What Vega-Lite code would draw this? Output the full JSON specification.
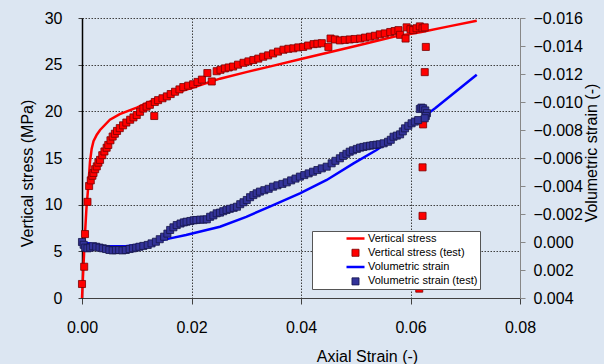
{
  "$schema": "https://vega.github.io/schema/vega-lite/v6.json",
  "width": 438,
  "height": 280,
  "autosize": {"type": "none"},
  "padding": {"left": 82, "top": 18, "right": 84, "bottom": 66},
  "background": "#dce6f2",
  "config": {
    "view": {"stroke": null},
    "font": "Liberation Sans",
    "axis": {"labelFont": "Liberation Sans", "labelFontSize": 16, "labelColor": "black", "titleFont": "Liberation Sans", "titleFontSize": 16, "titleFontWeight": "normal", "titleColor": "black", "labelFlush": false, "labelOverlap": false, "gridColor": "#404040", "gridDash": [1.5, 1.5], "gridWidth": 1},
    "legend": {"orient": "none", "legendX": 230, "legendY": 213, "fillColor": "white", "strokeColor": "#555555", "padding": 2, "symbolOffset": 31, "labelFontSize": 11, "labelFont": "Liberation Sans", "labelColor": "black", "labelOffset": 2, "rowPadding": 2.3, "clipHeight": 11}
  },
  "datasets": {
    "stressModel": [
      {"series": "Vertical stress", "strain": 0, "stress": 0},
      {"series": "Vertical stress", "strain": 0.0003, "stress": 3.8},
      {"series": "Vertical stress", "strain": 0.00055, "stress": 6.9},
      {"series": "Vertical stress", "strain": 0.0008, "stress": 9.5},
      {"series": "Vertical stress", "strain": 0.00115, "stress": 12.0},
      {"series": "Vertical stress", "strain": 0.00146, "stress": 14.6},
      {"series": "Vertical stress", "strain": 0.00177, "stress": 16.0},
      {"series": "Vertical stress", "strain": 0.0021, "stress": 16.8},
      {"series": "Vertical stress", "strain": 0.0027, "stress": 17.5},
      {"series": "Vertical stress", "strain": 0.0033, "stress": 18.0},
      {"series": "Vertical stress", "strain": 0.0051, "stress": 19.1},
      {"series": "Vertical stress", "strain": 0.0069, "stress": 19.7},
      {"series": "Vertical stress", "strain": 0.010, "stress": 20.4},
      {"series": "Vertical stress", "strain": 0.013, "stress": 21.2},
      {"series": "Vertical stress", "strain": 0.016, "stress": 21.8},
      {"series": "Vertical stress", "strain": 0.020, "stress": 22.5},
      {"series": "Vertical stress", "strain": 0.0252, "stress": 23.5},
      {"series": "Vertical stress", "strain": 0.030, "stress": 24.2},
      {"series": "Vertical stress", "strain": 0.035, "stress": 24.9},
      {"series": "Vertical stress", "strain": 0.040, "stress": 25.6},
      {"series": "Vertical stress", "strain": 0.045, "stress": 26.3},
      {"series": "Vertical stress", "strain": 0.050, "stress": 27.0},
      {"series": "Vertical stress", "strain": 0.0569, "stress": 28.0},
      {"series": "Vertical stress", "strain": 0.062, "stress": 28.5},
      {"series": "Vertical stress", "strain": 0.067, "stress": 29.1},
      {"series": "Vertical stress", "strain": 0.0721, "stress": 29.7}
    ],
    "stressTest": [
      {"series": "Vertical stress (test)", "strain": 0.0000, "stress": 1.5},
      {"series": "Vertical stress (test)", "strain": 0.0004, "stress": 3.35},
      {"series": "Vertical stress (test)", "strain": 0.00055, "stress": 6.85},
      {"series": "Vertical stress (test)", "strain": 0.0010, "stress": 10.3},
      {"series": "Vertical stress (test)", "strain": 0.0013, "stress": 12.0},
      {"series": "Vertical stress (test)", "strain": 0.0016, "stress": 12.6},
      {"series": "Vertical stress (test)", "strain": 0.0019, "stress": 13.1},
      {"series": "Vertical stress (test)", "strain": 0.0021, "stress": 13.4},
      {"series": "Vertical stress (test)", "strain": 0.0024, "stress": 13.8},
      {"series": "Vertical stress (test)", "strain": 0.0027, "stress": 14.1},
      {"series": "Vertical stress (test)", "strain": 0.0030, "stress": 14.5},
      {"series": "Vertical stress (test)", "strain": 0.0033, "stress": 14.8},
      {"series": "Vertical stress (test)", "strain": 0.0037, "stress": 15.3},
      {"series": "Vertical stress (test)", "strain": 0.0041, "stress": 15.7},
      {"series": "Vertical stress (test)", "strain": 0.0045, "stress": 16.1},
      {"series": "Vertical stress (test)", "strain": 0.0048, "stress": 16.4},
      {"series": "Vertical stress (test)", "strain": 0.0052, "stress": 16.9},
      {"series": "Vertical stress (test)", "strain": 0.0056, "stress": 17.3},
      {"series": "Vertical stress (test)", "strain": 0.0060, "stress": 17.6},
      {"series": "Vertical stress (test)", "strain": 0.0064, "stress": 17.9},
      {"series": "Vertical stress (test)", "strain": 0.0069, "stress": 18.2},
      {"series": "Vertical stress (test)", "strain": 0.0075, "stress": 18.5},
      {"series": "Vertical stress (test)", "strain": 0.0081, "stress": 18.8},
      {"series": "Vertical stress (test)", "strain": 0.0088, "stress": 19.1},
      {"series": "Vertical stress (test)", "strain": 0.0094, "stress": 19.35},
      {"series": "Vertical stress (test)", "strain": 0.0100, "stress": 19.6},
      {"series": "Vertical stress (test)", "strain": 0.0106, "stress": 19.95},
      {"series": "Vertical stress (test)", "strain": 0.0112, "stress": 20.3},
      {"series": "Vertical stress (test)", "strain": 0.0118, "stress": 20.5},
      {"series": "Vertical stress (test)", "strain": 0.0124, "stress": 20.7},
      {"series": "Vertical stress (test)", "strain": 0.0132, "stress": 19.5},
      {"series": "Vertical stress (test)", "strain": 0.0133, "stress": 21.0},
      {"series": "Vertical stress (test)", "strain": 0.0139, "stress": 21.2},
      {"series": "Vertical stress (test)", "strain": 0.0147, "stress": 21.4},
      {"series": "Vertical stress (test)", "strain": 0.0155, "stress": 21.6},
      {"series": "Vertical stress (test)", "strain": 0.0162, "stress": 21.85},
      {"series": "Vertical stress (test)", "strain": 0.0170, "stress": 22.1},
      {"series": "Vertical stress (test)", "strain": 0.0178, "stress": 22.35},
      {"series": "Vertical stress (test)", "strain": 0.0185, "stress": 22.6},
      {"series": "Vertical stress (test)", "strain": 0.0194, "stress": 22.75},
      {"series": "Vertical stress (test)", "strain": 0.0203, "stress": 22.9},
      {"series": "Vertical stress (test)", "strain": 0.0211, "stress": 23.15},
      {"series": "Vertical stress (test)", "strain": 0.0219, "stress": 23.4},
      {"series": "Vertical stress (test)", "strain": 0.0229, "stress": 24.1},
      {"series": "Vertical stress (test)", "strain": 0.0237, "stress": 23.2},
      {"series": "Vertical stress (test)", "strain": 0.0246, "stress": 24.3},
      {"series": "Vertical stress (test)", "strain": 0.0253, "stress": 24.45},
      {"series": "Vertical stress (test)", "strain": 0.0261, "stress": 24.6},
      {"series": "Vertical stress (test)", "strain": 0.0268, "stress": 24.7},
      {"series": "Vertical stress (test)", "strain": 0.0276, "stress": 24.8},
      {"series": "Vertical stress (test)", "strain": 0.0285, "stress": 25.0},
      {"series": "Vertical stress (test)", "strain": 0.0295, "stress": 25.2},
      {"series": "Vertical stress (test)", "strain": 0.0304, "stress": 25.35},
      {"series": "Vertical stress (test)", "strain": 0.0313, "stress": 25.5},
      {"series": "Vertical stress (test)", "strain": 0.0322, "stress": 25.65},
      {"series": "Vertical stress (test)", "strain": 0.0331, "stress": 25.85},
      {"series": "Vertical stress (test)", "strain": 0.0340, "stress": 26.0},
      {"series": "Vertical stress (test)", "strain": 0.0349, "stress": 26.2},
      {"series": "Vertical stress (test)", "strain": 0.0358, "stress": 26.4},
      {"series": "Vertical stress (test)", "strain": 0.0368, "stress": 26.6},
      {"series": "Vertical stress (test)", "strain": 0.0377, "stress": 26.7},
      {"series": "Vertical stress (test)", "strain": 0.0386, "stress": 26.75},
      {"series": "Vertical stress (test)", "strain": 0.0395, "stress": 26.85},
      {"series": "Vertical stress (test)", "strain": 0.0404, "stress": 26.9},
      {"series": "Vertical stress (test)", "strain": 0.0413, "stress": 27.05},
      {"series": "Vertical stress (test)", "strain": 0.0423, "stress": 27.2},
      {"series": "Vertical stress (test)", "strain": 0.0430, "stress": 27.25},
      {"series": "Vertical stress (test)", "strain": 0.0438, "stress": 27.3},
      {"series": "Vertical stress (test)", "strain": 0.0450, "stress": 26.9},
      {"series": "Vertical stress (test)", "strain": 0.0454, "stress": 27.8},
      {"series": "Vertical stress (test)", "strain": 0.0462, "stress": 27.7},
      {"series": "Vertical stress (test)", "strain": 0.0471, "stress": 27.6},
      {"series": "Vertical stress (test)", "strain": 0.0480, "stress": 27.65},
      {"series": "Vertical stress (test)", "strain": 0.0489, "stress": 27.7},
      {"series": "Vertical stress (test)", "strain": 0.0498, "stress": 27.75},
      {"series": "Vertical stress (test)", "strain": 0.0508, "stress": 27.8},
      {"series": "Vertical stress (test)", "strain": 0.0517, "stress": 27.9},
      {"series": "Vertical stress (test)", "strain": 0.0526, "stress": 28.0},
      {"series": "Vertical stress (test)", "strain": 0.0535, "stress": 28.1},
      {"series": "Vertical stress (test)", "strain": 0.0544, "stress": 28.25},
      {"series": "Vertical stress (test)", "strain": 0.0553, "stress": 28.35},
      {"series": "Vertical stress (test)", "strain": 0.0563, "stress": 28.5},
      {"series": "Vertical stress (test)", "strain": 0.0571, "stress": 28.6},
      {"series": "Vertical stress (test)", "strain": 0.0578, "stress": 28.7},
      {"series": "Vertical stress (test)", "strain": 0.0581, "stress": 28.2},
      {"series": "Vertical stress (test)", "strain": 0.0591, "stress": 27.8},
      {"series": "Vertical stress (test)", "strain": 0.0593, "stress": 29.0},
      {"series": "Vertical stress (test)", "strain": 0.0600, "stress": 28.8},
      {"series": "Vertical stress (test)", "strain": 0.0605, "stress": 28.7},
      {"series": "Vertical stress (test)", "strain": 0.0611, "stress": 28.9},
      {"series": "Vertical stress (test)", "strain": 0.0617, "stress": 29.1},
      {"series": "Vertical stress (test)", "strain": 0.0622, "stress": 28.9},
      {"series": "Vertical stress (test)", "strain": 0.0626, "stress": 29.0},
      {"series": "Vertical stress (test)", "strain": 0.0628, "stress": 26.9},
      {"series": "Vertical stress (test)", "strain": 0.0626, "stress": 24.2},
      {"series": "Vertical stress (test)", "strain": 0.0623, "stress": 18.6},
      {"series": "Vertical stress (test)", "strain": 0.0622, "stress": 14.0},
      {"series": "Vertical stress (test)", "strain": 0.0622, "stress": 8.8},
      {"series": "Vertical stress (test)", "strain": 0.0616, "stress": 1.0}
    ],
    "volModel": [
      {"series": "Volumetric strain", "strain": 0, "vol": 0},
      {"series": "Volumetric strain", "strain": 0.004, "vol": 0.0003},
      {"series": "Volumetric strain", "strain": 0.008, "vol": 0.0003},
      {"series": "Volumetric strain", "strain": 0.012, "vol": 0.0001},
      {"series": "Volumetric strain", "strain": 0.0161, "vol": -0.00026},
      {"series": "Volumetric strain", "strain": 0.019, "vol": -0.0005},
      {"series": "Volumetric strain", "strain": 0.0252, "vol": -0.00109},
      {"series": "Volumetric strain", "strain": 0.030, "vol": -0.0018},
      {"series": "Volumetric strain", "strain": 0.0343, "vol": -0.00252},
      {"series": "Volumetric strain", "strain": 0.0398, "vol": -0.00348},
      {"series": "Volumetric strain", "strain": 0.0447, "vol": -0.00443},
      {"series": "Volumetric strain", "strain": 0.0496, "vol": -0.00562},
      {"series": "Volumetric strain", "strain": 0.0538, "vol": -0.00657},
      {"series": "Volumetric strain", "strain": 0.0587, "vol": -0.00788},
      {"series": "Volumetric strain", "strain": 0.0645, "vol": -0.00955},
      {"series": "Volumetric strain", "strain": 0.0709, "vol": -0.01157},
      {"series": "Volumetric strain", "strain": 0.0721, "vol": -0.01195}
    ],
    "volTest": [
      {"series": "Volumetric strain (test)", "strain": 0.0000, "vol": 0.0000},
      {"series": "Volumetric strain (test)", "strain": 0.0003, "vol": 0.0002},
      {"series": "Volumetric strain (test)", "strain": 0.0006, "vol": 0.0004},
      {"series": "Volumetric strain (test)", "strain": 0.0010, "vol": 0.00045},
      {"series": "Volumetric strain (test)", "strain": 0.0015, "vol": 0.0004},
      {"series": "Volumetric strain (test)", "strain": 0.0020, "vol": 0.0003},
      {"series": "Volumetric strain (test)", "strain": 0.0026, "vol": 0.00034},
      {"series": "Volumetric strain (test)", "strain": 0.0032, "vol": 0.0004},
      {"series": "Volumetric strain (test)", "strain": 0.0038, "vol": 0.00045},
      {"series": "Volumetric strain (test)", "strain": 0.0044, "vol": 0.0005},
      {"series": "Volumetric strain (test)", "strain": 0.0050, "vol": 0.00057},
      {"series": "Volumetric strain (test)", "strain": 0.0056, "vol": 0.0006},
      {"series": "Volumetric strain (test)", "strain": 0.0062, "vol": 0.00058},
      {"series": "Volumetric strain (test)", "strain": 0.0068, "vol": 0.00057},
      {"series": "Volumetric strain (test)", "strain": 0.0074, "vol": 0.0006},
      {"series": "Volumetric strain (test)", "strain": 0.0080, "vol": 0.00057},
      {"series": "Volumetric strain (test)", "strain": 0.0087, "vol": 0.0005},
      {"series": "Volumetric strain (test)", "strain": 0.0093, "vol": 0.00045},
      {"series": "Volumetric strain (test)", "strain": 0.0099, "vol": 0.0004},
      {"series": "Volumetric strain (test)", "strain": 0.0105, "vol": 0.00034},
      {"series": "Volumetric strain (test)", "strain": 0.0112, "vol": 0.00028},
      {"series": "Volumetric strain (test)", "strain": 0.0120, "vol": 0.00021},
      {"series": "Volumetric strain (test)", "strain": 0.0127, "vol": 0.0001},
      {"series": "Volumetric strain (test)", "strain": 0.0135, "vol": -0.00002},
      {"series": "Volumetric strain (test)", "strain": 0.0142, "vol": -0.0002},
      {"series": "Volumetric strain (test)", "strain": 0.0150, "vol": -0.00038},
      {"series": "Volumetric strain (test)", "strain": 0.0156, "vol": -0.0006},
      {"series": "Volumetric strain (test)", "strain": 0.0161, "vol": -0.00086},
      {"series": "Volumetric strain (test)", "strain": 0.0167, "vol": -0.00105},
      {"series": "Volumetric strain (test)", "strain": 0.0173, "vol": -0.00121},
      {"series": "Volumetric strain (test)", "strain": 0.0180, "vol": -0.00132},
      {"series": "Volumetric strain (test)", "strain": 0.0186, "vol": -0.0014},
      {"series": "Volumetric strain (test)", "strain": 0.0191, "vol": -0.00145},
      {"series": "Volumetric strain (test)", "strain": 0.0198, "vol": -0.0015},
      {"series": "Volumetric strain (test)", "strain": 0.0204, "vol": -0.00155},
      {"series": "Volumetric strain (test)", "strain": 0.0209, "vol": -0.00157},
      {"series": "Volumetric strain (test)", "strain": 0.0216, "vol": -0.0016},
      {"series": "Volumetric strain (test)", "strain": 0.0222, "vol": -0.0016},
      {"series": "Volumetric strain (test)", "strain": 0.0228, "vol": -0.00162},
      {"series": "Volumetric strain (test)", "strain": 0.0234, "vol": -0.0018},
      {"series": "Volumetric strain (test)", "strain": 0.0240, "vol": -0.0019},
      {"series": "Volumetric strain (test)", "strain": 0.0246, "vol": -0.00205},
      {"series": "Volumetric strain (test)", "strain": 0.0252, "vol": -0.0021},
      {"series": "Volumetric strain (test)", "strain": 0.0258, "vol": -0.0022},
      {"series": "Volumetric strain (test)", "strain": 0.0264, "vol": -0.00229},
      {"series": "Volumetric strain (test)", "strain": 0.0270, "vol": -0.00237},
      {"series": "Volumetric strain (test)", "strain": 0.0277, "vol": -0.00244},
      {"series": "Volumetric strain (test)", "strain": 0.0283, "vol": -0.00252},
      {"series": "Volumetric strain (test)", "strain": 0.0289, "vol": -0.0027},
      {"series": "Volumetric strain (test)", "strain": 0.0295, "vol": -0.00284},
      {"series": "Volumetric strain (test)", "strain": 0.0301, "vol": -0.003},
      {"series": "Volumetric strain (test)", "strain": 0.0307, "vol": -0.0032},
      {"series": "Volumetric strain (test)", "strain": 0.0313, "vol": -0.00335},
      {"series": "Volumetric strain (test)", "strain": 0.0319, "vol": -0.00348},
      {"series": "Volumetric strain (test)", "strain": 0.0325, "vol": -0.0036},
      {"series": "Volumetric strain (test)", "strain": 0.0333, "vol": -0.0037},
      {"series": "Volumetric strain (test)", "strain": 0.0341, "vol": -0.0038},
      {"series": "Volumetric strain (test)", "strain": 0.0349, "vol": -0.00395},
      {"series": "Volumetric strain (test)", "strain": 0.0357, "vol": -0.00405},
      {"series": "Volumetric strain (test)", "strain": 0.0366, "vol": -0.00415},
      {"series": "Volumetric strain (test)", "strain": 0.0374, "vol": -0.00426},
      {"series": "Volumetric strain (test)", "strain": 0.0382, "vol": -0.0044},
      {"series": "Volumetric strain (test)", "strain": 0.0390, "vol": -0.00453},
      {"series": "Volumetric strain (test)", "strain": 0.0398, "vol": -0.00467},
      {"series": "Volumetric strain (test)", "strain": 0.0406, "vol": -0.00478},
      {"series": "Volumetric strain (test)", "strain": 0.0414, "vol": -0.0049},
      {"series": "Volumetric strain (test)", "strain": 0.0422, "vol": -0.00502},
      {"series": "Volumetric strain (test)", "strain": 0.0430, "vol": -0.00514},
      {"series": "Volumetric strain (test)", "strain": 0.0438, "vol": -0.00526},
      {"series": "Volumetric strain (test)", "strain": 0.0447, "vol": -0.00538},
      {"series": "Volumetric strain (test)", "strain": 0.0456, "vol": -0.00562},
      {"series": "Volumetric strain (test)", "strain": 0.0463, "vol": -0.0058},
      {"series": "Volumetric strain (test)", "strain": 0.0471, "vol": -0.00598},
      {"series": "Volumetric strain (test)", "strain": 0.0477, "vol": -0.00615},
      {"series": "Volumetric strain (test)", "strain": 0.0483, "vol": -0.0063},
      {"series": "Volumetric strain (test)", "strain": 0.0489, "vol": -0.00645},
      {"series": "Volumetric strain (test)", "strain": 0.0495, "vol": -0.00655},
      {"series": "Volumetric strain (test)", "strain": 0.0502, "vol": -0.00665},
      {"series": "Volumetric strain (test)", "strain": 0.0508, "vol": -0.00674},
      {"series": "Volumetric strain (test)", "strain": 0.0514, "vol": -0.00679},
      {"series": "Volumetric strain (test)", "strain": 0.0520, "vol": -0.00684},
      {"series": "Volumetric strain (test)", "strain": 0.0526, "vol": -0.00688},
      {"series": "Volumetric strain (test)", "strain": 0.0532, "vol": -0.00692},
      {"series": "Volumetric strain (test)", "strain": 0.0538, "vol": -0.00695},
      {"series": "Volumetric strain (test)", "strain": 0.0544, "vol": -0.00698},
      {"series": "Volumetric strain (test)", "strain": 0.0551, "vol": -0.00705},
      {"series": "Volumetric strain (test)", "strain": 0.0559, "vol": -0.00716},
      {"series": "Volumetric strain (test)", "strain": 0.0564, "vol": -0.0073},
      {"series": "Volumetric strain (test)", "strain": 0.0569, "vol": -0.00752},
      {"series": "Volumetric strain (test)", "strain": 0.0575, "vol": -0.0076},
      {"series": "Volumetric strain (test)", "strain": 0.0581, "vol": -0.00769},
      {"series": "Volumetric strain (test)", "strain": 0.0586, "vol": -0.0079},
      {"series": "Volumetric strain (test)", "strain": 0.0590, "vol": -0.00812},
      {"series": "Volumetric strain (test)", "strain": 0.0596, "vol": -0.0083},
      {"series": "Volumetric strain (test)", "strain": 0.0602, "vol": -0.00848},
      {"series": "Volumetric strain (test)", "strain": 0.0608, "vol": -0.0086},
      {"series": "Volumetric strain (test)", "strain": 0.0614, "vol": -0.00871},
      {"series": "Volumetric strain (test)", "strain": 0.0617, "vol": -0.0095},
      {"series": "Volumetric strain (test)", "strain": 0.0620, "vol": -0.0096},
      {"series": "Volumetric strain (test)", "strain": 0.0623, "vol": -0.00955},
      {"series": "Volumetric strain (test)", "strain": 0.0627, "vol": -0.0094},
      {"series": "Volumetric strain (test)", "strain": 0.0630, "vol": -0.0092},
      {"series": "Volumetric strain (test)", "strain": 0.0628, "vol": -0.009},
      {"series": "Volumetric strain (test)", "strain": 0.0626, "vol": -0.00884}
    ]
  },
  "layer": [
    {
      "layer": [
        {
          "data": {"name": "stressModel"},
          "mark": {"type": "line", "strokeWidth": 2.5, "color": "#ff0000"},
          "encoding": {
            "x": {"field": "strain", "type": "quantitative", "scale": {"domain": [0, 0.08], "nice": false},
              "axis": {"values": [0, 0.02, 0.04, 0.06, 0.08], "tickCount": 5, "format": ".2f", "title": "Axial Strain (-)", "grid": true, "labelOverlap": false, "domainColor": "#404040", "tickColor": "#404040", "tickSize": 6, "labelPadding": 15, "titleX": 285, "titleY": 63, "titleBaseline": "alphabetic", "titleAlign": "center", "titleAnchor": null}},
            "y": {"field": "stress", "type": "quantitative", "scale": {"domain": [0, 30], "nice": false},
              "axis": {"orient": "left", "values": [0, 5, 10, 15, 20, 25, 30], "tickCount": 7, "title": "Vertical stress (MPa)", "grid": true, "labelOverlap": false, "domainColor": "black", "domainWidth": 1.5, "tickColor": "#404040", "tickSize": 4, "labelPadding": 16, "titleX": -50, "titleY": 155, "titleBaseline": "alphabetic", "titleAngle": 270, "titleAlign": "center"}},
            "order": {"field": "strain"}
          }
        },
        {
          "data": {"name": "stressTest"},
          "mark": {"type": "point", "filled": true, "opacity": 1},
          "encoding": {
            "x": {"field": "strain", "type": "quantitative"},
            "y": {"field": "stress", "type": "quantitative"},
            "color": {"field": "series", "type": "nominal", "scale": {"domain": ["Vertical stress", "Vertical stress (test)", "Volumetric strain", "Volumetric strain (test)"], "range": ["#ff0000", "#ff0000", "#0000ff", "#333399"]}, "legend": {"title": null}},
            "stroke": {"field": "series", "type": "nominal", "scale": {"domain": ["Vertical stress", "Vertical stress (test)", "Volumetric strain", "Volumetric strain (test)"], "range": ["#ff0000", "#7a0000", "#0000ff", "#15154a"]}, "legend": {"title": null}},
            "size": {"field": "series", "type": "ordinal", "scale": {"type": "ordinal", "domain": ["Vertical stress", "Vertical stress (test)", "Volumetric strain", "Volumetric strain (test)"], "range": [324, 50, 324, 50]}, "legend": {"title": null}},
            "strokeWidth": {"field": "series", "type": "ordinal", "scale": {"type": "ordinal", "domain": ["Vertical stress", "Vertical stress (test)", "Volumetric strain", "Volumetric strain (test)"], "range": [2.5, 0.8, 2.5, 0.8]}, "legend": {"title": null}},
            "shape": {"field": "series", "type": "nominal", "scale": {"domain": ["Vertical stress", "Vertical stress (test)", "Volumetric strain", "Volumetric strain (test)"], "range": ["stroke", "square", "stroke", "square"]}, "legend": {"title": null}}
          }
        }
      ]
    },
    {
      "layer": [
        {
          "data": {"name": "volModel"},
          "mark": {"type": "line", "strokeWidth": 2.5, "color": "#0000ff"},
          "encoding": {
            "x": {"field": "strain", "type": "quantitative"},
            "y": {"field": "vol", "type": "quantitative", "scale": {"domain": [-0.016, 0.004], "reverse": true, "nice": false},
              "axis": {"orient": "right", "values": [-0.016, -0.014, -0.012, -0.01, -0.008, -0.006, -0.004, -0.002, 0, 0.002, 0.004], "tickCount": 11, "format": ".3f", "title": "Volumetric strain (-)", "grid": false, "labelOverlap": false, "domainColor": "#888888", "tickColor": "#888888", "tickSize": 5, "labelPadding": 8, "titleX": 76.5, "titleY": 134.5, "titleBaseline": "alphabetic", "titleAngle": 270, "titleAlign": "center"}},
            "order": {"field": "strain"}
          }
        },
        {
          "data": {"name": "volTest"},
          "mark": {"type": "point", "filled": true, "opacity": 1},
          "encoding": {
            "x": {"field": "strain", "type": "quantitative"},
            "y": {"field": "vol", "type": "quantitative"},
            "color": {"field": "series", "type": "nominal", "scale": {"domain": ["Vertical stress", "Vertical stress (test)", "Volumetric strain", "Volumetric strain (test)"], "range": ["#ff0000", "#ff0000", "#0000ff", "#333399"]}, "legend": {"title": null}},
            "stroke": {"field": "series", "type": "nominal", "scale": {"domain": ["Vertical stress", "Vertical stress (test)", "Volumetric strain", "Volumetric strain (test)"], "range": ["#ff0000", "#7a0000", "#0000ff", "#15154a"]}, "legend": {"title": null}},
            "size": {"field": "series", "type": "ordinal", "scale": {"type": "ordinal", "domain": ["Vertical stress", "Vertical stress (test)", "Volumetric strain", "Volumetric strain (test)"], "range": [324, 50, 324, 50]}, "legend": {"title": null}},
            "strokeWidth": {"field": "series", "type": "ordinal", "scale": {"type": "ordinal", "domain": ["Vertical stress", "Vertical stress (test)", "Volumetric strain", "Volumetric strain (test)"], "range": [2.5, 0.8, 2.5, 0.8]}, "legend": {"title": null}},
            "shape": {"field": "series", "type": "nominal", "scale": {"domain": ["Vertical stress", "Vertical stress (test)", "Volumetric strain", "Volumetric strain (test)"], "range": ["stroke", "square", "stroke", "square"]}, "legend": {"title": null}}
          }
        }
      ]
    }
  ],
  "resolve": {"scale": {"y": "independent", "color": "shared", "shape": "shared", "stroke": "shared", "size": "shared", "strokeWidth": "shared"}}
}
